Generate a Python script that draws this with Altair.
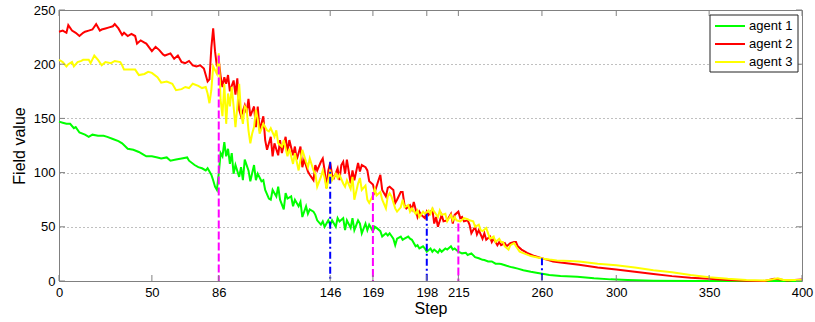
import altair as alt
import pandas as pd

# Field value of each agent over the steps: (step, value)
agent1 = [
    (0, 147), (2, 146), (4, 145), (6, 145), (8, 141), (9, 142), (11, 137), (14, 135), (16, 133), (18, 135),
    (21, 134), (24, 134), (26, 133), (29, 131), (32, 129), (34, 127), (37, 122), (40, 121), (43, 119), (45, 117),
    (47, 115), (50, 115), (53, 114), (55, 113), (58, 114), (60, 111), (63, 112), (66, 113), (69, 114), (70, 111),
    (73, 107), (75, 105), (77, 104), (79, 102), (80, 104), (82, 98), (83, 93), (84, 87), (85, 84), (86, 99),
    (87, 118), (88, 115), (89, 128), (90, 115), (91, 122), (92, 108), (93, 118), (94, 99), (95, 107), (97, 96),
    (98, 105), (99, 93), (100, 112), (102, 102), (103, 92), (105, 107), (106, 93), (107, 99), (109, 92), (110, 93),
    (111, 84), (113, 76), (114, 75), (115, 84), (117, 78), (118, 87), (119, 75), (121, 66), (122, 81), (123, 76),
    (125, 78), (126, 69), (127, 75), (129, 69), (130, 73), (131, 59), (133, 69), (134, 62), (135, 66), (137, 64),
    (138, 61), (139, 56), (141, 52), (142, 55), (143, 50), (145, 56), (146, 52), (147, 56), (149, 50), (150, 58),
    (151, 55), (153, 58), (154, 47), (155, 56), (157, 49), (158, 58), (159, 47), (161, 56), (162, 53), (163, 44),
    (165, 53), (166, 47), (167, 52), (169, 46), (170, 50), (171, 49), (173, 46), (174, 41), (176, 44), (177, 42),
    (178, 44), (180, 39), (181, 33), (182, 39), (184, 41), (185, 38), (186, 39), (188, 41), (189, 39), (190, 38),
    (192, 32), (193, 33), (194, 30), (196, 32), (197, 30), (198, 27), (200, 30), (201, 27), (202, 29), (204, 26),
    (205, 29), (206, 27), (208, 30), (209, 29), (211, 32), (212, 29), (213, 30), (215, 27), (217, 25.5), (219, 26),
    (220, 24), (222, 25.5), (224, 22), (226, 21), (228, 19.5), (229, 19.4), (231, 18), (233, 18), (235, 16), (237, 16),
    (238, 15.7), (241, 14), (244, 12.6), (247, 11.4), (250, 10), (254, 8.6), (257, 7.7), (261, 6.5), (264, 5.6), (270, 4.6),
    (279, 4), (288, 2.5), (297, 1.5), (306, 0.9), (320, 0.3), (340, 0), (370, 0), (400, 0),
]

agent2 = [
    (0, 230), (2, 231), (4, 229), (5, 236), (7, 231), (9, 229), (11, 226), (13, 229), (14, 230), (16, 231),
    (18, 232), (20, 237), (22, 231), (23, 232), (25, 233), (27, 234), (29, 235), (30, 237), (32, 233), (34, 227),
    (35, 229), (37, 226), (39, 228), (41, 226), (42, 219), (44, 222), (46, 220), (47, 219), (50, 212), (52, 216),
    (54, 213), (56, 209), (57, 208), (60, 210), (62, 205), (64, 208), (66, 202), (68, 201), (70, 203), (72, 199),
    (74, 198), (76, 199), (78, 196), (79, 190), (80, 184), (81, 186), (82, 215), (83, 233), (84, 212), (85, 198),
    (86, 204), (87, 189), (88, 179), (89, 188), (90, 182), (91, 190), (92, 175), (94, 185), (95, 172), (96, 187),
    (97, 158), (98, 152), (100, 162), (101, 155), (102, 168), (103, 152), (105, 161), (106, 142), (107, 161), (108, 139),
    (110, 152), (111, 130), (112, 121), (114, 133), (115, 115), (116, 127), (118, 116), (119, 130), (120, 118), (122, 133),
    (123, 119), (124, 130), (126, 116), (127, 124), (128, 112), (130, 124), (131, 105), (132, 112), (134, 101), (135, 98),
    (137, 93), (138, 107), (139, 102), (141, 110), (142, 113), (143, 102), (144, 86), (145, 102), (146, 109), (147, 98),
    (148, 95), (150, 104), (151, 93), (152, 107), (153, 110), (154, 99), (155, 112), (157, 90), (158, 102), (159, 93),
    (161, 109), (162, 101), (163, 107), (165, 105), (166, 102), (167, 92), (169, 89), (170, 82), (172, 93), (173, 98),
    (174, 84), (176, 78), (177, 86), (178, 87), (180, 84), (181, 72), (182, 75), (184, 82), (185, 82), (186, 70),
    (187, 67), (189, 70), (190, 66), (191, 73), (193, 59), (194, 64), (195, 61), (197, 58), (198, 64), (199, 61),
    (201, 66), (202, 53), (203, 59), (204, 50), (206, 61), (207, 55), (209, 56), (211, 62), (212, 53), (213, 61),
    (215, 64), (216, 58), (217, 59), (218, 55), (220, 56), (221, 52), (222, 44), (224, 50), (225, 43), (226, 47),
    (228, 39), (229, 44), (230, 38), (232, 41), (233, 36), (234, 39), (236, 33), (237, 36), (238, 33), (240, 35),
    (241, 32), (243, 35), (245, 36), (246, 36), (247, 32), (249, 29), (252, 26), (256, 23), (259, 21.5), (263, 19.5),
    (266, 18), (270, 17), (280, 15), (290, 12.5), (300, 10.5), (310, 8.5), (320, 6.5), (330, 4.5), (340, 3), (350, 2),
    (360, 1), (370, 0.3), (380, 0), (385, 2), (388, 1.5), (392, 0.5), (400, 1.5),
]

agent3 = [
    (0, 204), (1, 203), (2, 202), (4, 198), (5, 200), (7, 202), (8, 198), (10, 202), (12, 203), (13, 204),
    (16, 204), (17, 201), (19, 208), (21, 204), (23, 199), (25, 202), (28, 201), (30, 203), (33, 202), (34, 199),
    (35, 195), (38, 195), (41, 195), (43, 190), (46, 191), (48, 193), (50, 192), (53, 188), (55, 183), (58, 184),
    (61, 182), (63, 176), (66, 177), (68, 179), (70, 178), (72, 182), (75, 180), (77, 178), (79, 179), (80, 173),
    (81, 164), (82, 176), (83, 198), (85, 191), (86, 210), (87, 167), (88, 152), (89, 182), (90, 145), (91, 173),
    (92, 161), (93, 179), (94, 161), (95, 142), (96, 161), (97, 182), (98, 155), (99, 145), (100, 161), (101, 159),
    (102, 139), (103, 127), (104, 136), (105, 142), (106, 158), (107, 149), (108, 136), (110, 145), (111, 142), (112, 139),
    (113, 138), (114, 141), (116, 133), (117, 139), (118, 127), (120, 124), (121, 130), (123, 115), (124, 122), (126, 108),
    (127, 118), (129, 102), (130, 112), (131, 121), (133, 110), (134, 105), (135, 113), (137, 102), (138, 99), (139, 87),
    (141, 96), (142, 102), (143, 95), (144, 85), (146, 102), (147, 93), (149, 99), (150, 95), (151, 98), (153, 90),
    (154, 87), (155, 93), (157, 85), (158, 96), (159, 75), (161, 90), (162, 95), (163, 84), (165, 88), (166, 75),
    (167, 72), (169, 79), (170, 85), (171, 79), (173, 82), (174, 75), (176, 67), (177, 78), (178, 81), (179, 78),
    (181, 67), (182, 64), (184, 68), (185, 75), (186, 68), (188, 70), (189, 64), (190, 67), (192, 62), (193, 65),
    (194, 59), (196, 64), (197, 62), (199, 65), (200, 62), (201, 67), (202, 64), (204, 59), (205, 65), (206, 61),
    (208, 62), (209, 55), (211, 61), (212, 56), (213, 59), (214, 56), (216, 55), (218, 58), (220, 57), (221, 56),
    (223, 55), (224, 50), (226, 52), (227, 47), (228, 46), (230, 49), (231, 44), (232, 39), (234, 41), (235, 36),
    (237, 39), (238, 36), (239, 36), (240, 32), (242, 29), (243, 33), (245, 35), (246, 32), (248, 27), (251, 25),
    (254, 23), (257, 22), (261, 20.6), (264, 19.8), (268, 19), (275, 18.5), (280, 18), (290, 16), (300, 14.5), (310, 12.5),
    (320, 10), (330, 8), (340, 5.5), (350, 3.5), (360, 2), (370, 1), (380, 0.5), (384, 1.5), (387, 2.5), (390, 1),
    (400, 1),
]

agent_names = ["agent 1", "agent 2", "agent 3"]
agent_colors = ["#00ff00", "#ff0000", "#ffff00"]

x_ticks = [0, 50, 86, 146, 169, 198, 215, 260, 300, 350, 400]
y_ticks = [0, 50, 100, 150, 200, 250]

# Vertical markers: step, height reached, line style
marker_steps = [86, 146, 169, 198, 215, 260]
marker_tops = [208, 110, 82, 62, 53, 21]
marker_kind = ["dash", "dashdot", "dash", "dashdot", "dash", "dashdot"]

rows = []
for name, pts in zip(agent_names, (agent1, agent2, agent3)):
    for s, v in pts:
        rows.append({"step": s, "value": v, "agent": name})
lines_df = pd.DataFrame(rows)

markers_df = pd.DataFrame({"step": marker_steps, "value": marker_tops, "kind": marker_kind})
xt_df = pd.DataFrame({"step": x_ticks})
yt_df = pd.DataFrame({"value": y_ticks})

W, H = 743, 271
FRAME = "#808080"
FONT = "Liberation Sans"

x_scale = alt.Scale(domain=[0, 400], nice=False, zero=False)
y_scale = alt.Scale(domain=[0, 250], nice=False)

lines = alt.Chart(lines_df).mark_line(strokeWidth=2).encode(
    x=alt.X("step:Q", scale=x_scale,
            axis=alt.Axis(values=x_ticks, title="Step", grid=False, ticks=False, domain=False,
                          labelPadding=5, titlePadding=1, format="d", labelFlush=False)),
    y=alt.Y("value:Q", scale=y_scale,
            axis=alt.Axis(values=y_ticks, title="Field value", grid=True, gridDash=[1, 3],
                          gridColor="#808080", gridWidth=1, ticks=False, domain=False,
                          labelPadding=4, titlePadding=6)),
    color=alt.Color("agent:N", scale=alt.Scale(domain=agent_names, range=agent_colors), legend=None),
)

dash_markers = alt.Chart(markers_df).transform_filter(alt.datum.kind == "dash").mark_rule(
    color="#ff00ff", strokeWidth=2, strokeDash=[8, 3]
).encode(x=alt.X("step:Q", scale=x_scale), y=alt.Y("value:Q", scale=y_scale), y2=alt.value(H))

dashdot_markers = alt.Chart(markers_df).transform_filter(alt.datum.kind == "dashdot").mark_rule(
    color="#0000ff", strokeWidth=2, strokeDash=[7, 3, 2, 3]
).encode(x=alt.X("step:Q", scale=x_scale), y=alt.Y("value:Q", scale=y_scale), y2=alt.value(H))

# inward tick marks on all four sides of the frame
tick_len = 6
x_ticks_bottom = alt.Chart(xt_df).mark_rule(color=FRAME).encode(
    x=alt.X("step:Q", scale=x_scale), y=alt.value(H - tick_len), y2=alt.value(H))
x_ticks_top = alt.Chart(xt_df).mark_rule(color=FRAME).encode(
    x=alt.X("step:Q", scale=x_scale), y=alt.value(0), y2=alt.value(tick_len))
y_ticks_left = alt.Chart(yt_df).mark_rule(color=FRAME).encode(
    y=alt.Y("value:Q", scale=y_scale), x=alt.value(0), x2=alt.value(tick_len))
y_ticks_right = alt.Chart(yt_df).mark_rule(color=FRAME).encode(
    y=alt.Y("value:Q", scale=y_scale), x=alt.value(W - tick_len), x2=alt.value(W))

# legend box in the upper right corner
box_df = pd.DataFrame({"agent": ["box"]})
legend_box = alt.Chart(box_df).mark_rect(fill="white", stroke="#222222", strokeWidth=1).encode(
    x=alt.value(651), x2=alt.value(739), y=alt.value(5), y2=alt.value(62))

legend_layers = [legend_box]
row_y = [16, 34, 52]
for name, color, yy in zip(agent_names, agent_colors, row_y):
    one = pd.DataFrame({"agent": [name]})
    legend_layers.append(
        alt.Chart(one).mark_rule(color=color, strokeWidth=2).encode(
            x=alt.value(656), x2=alt.value(686), y=alt.value(yy)))
    legend_layers.append(
        alt.Chart(one).mark_text(align="left", baseline="middle", font=FONT, fontSize=13, color="black").encode(
            x=alt.value(690), y=alt.value(yy), text="agent:N"))

chart = alt.layer(
    lines, dash_markers, dashdot_markers,
    x_ticks_bottom, x_ticks_top, y_ticks_left, y_ticks_right,
    *legend_layers,
).properties(
    width=W, height=H,
    padding={"left": 59, "top": 10, "right": 13, "bottom": 41},
    autosize=alt.AutoSizeParams(type="none"),
    background="white",
).configure_axis(
    labelFont=FONT, titleFont=FONT, labelFontSize=13, titleFontSize=16,
    titleFontWeight="normal", labelColor="black", titleColor="black",
).configure_view(
    stroke=FRAME, strokeWidth=1,
)

chart.save("out.html", embed_options={"renderer": "svg", "actions": False})
